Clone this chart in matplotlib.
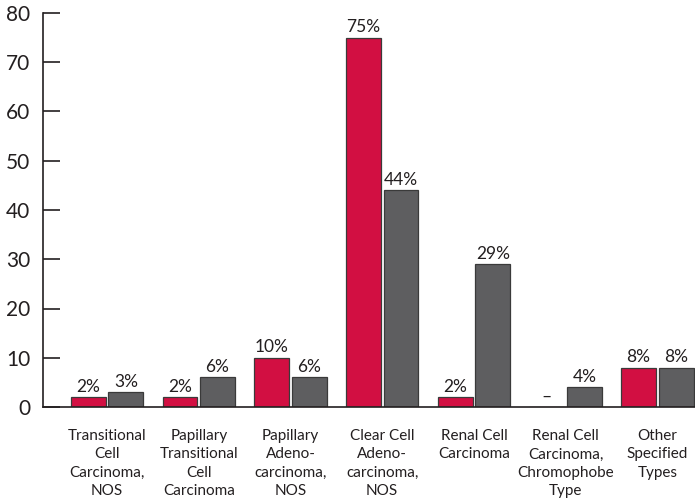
import matplotlib
matplotlib.use("Agg")
import matplotlib.pyplot as plt
import numpy as np

categories = ["Transitional\nCell\nCarcinoma,\nNOS",
              "Papillary\nTransitional\nCell\nCarcinoma",
              "Papillary\nAdeno-\ncarcinoma,\nNOS",
              "Clear Cell\nAdeno-\ncarcinoma,\nNOS",
              "Renal Cell\nCarcinoma",
              "Renal Cell\nCarcinoma,\nChromophobe\nType",
              "Other\nSpecified\nTypes"]
red_values = [2, 2, 10, 75, 2, 0, 8]
gray_values = [3, 6, 6, 44, 29, 4, 8]
red_labels = ["2%", "2%", "10%", "75%", "2%", "–", "8%"]
gray_labels = ["3%", "6%", "6%", "44%", "29%", "4%", "8%"]
yticks = [0, 10, 20, 30, 40, 50, 60, 70, 80]

plt.rcParams['font.family'] = ['Lato', 'DejaVu Sans']
txt = "#231f20"
red = "#D20F42"
gray = "#5E5E60"

fig = plt.figure(figsize=(6.95, 4.99), dpi=100)
ax = fig.add_axes([43/695, (499-407)/499, (695-43)/695, (407-13)/499])

x = np.arange(len(categories))
w = 0.38
ax.bar(x - 0.205, red_values, w, color=red, edgecolor="#3a3a3a", linewidth=0.9)
ax.bar(x + 0.205, gray_values, w, color=gray, edgecolor="#3a3a3a", linewidth=0.9)

for i in range(len(categories)):
    ax.text(x[i] - 0.205, red_values[i] + 0.5, red_labels[i], ha="center", va="bottom",
            fontsize=12.5, color=txt)
    ax.text(x[i] + 0.205, gray_values[i] + 0.5, gray_labels[i], ha="center", va="bottom",
            fontsize=12.5, color=txt)

ax.set_xlim(-0.698, 6.41)
ax.set_ylim(0, 80)
ax.set_yticks(yticks)
ax.set_yticklabels([str(v) for v in yticks], fontsize=15, color=txt)
ax.tick_params(axis="y", direction="in", length=12, width=1.2, pad=9, color=txt)
ax.set_xticks(x)
ax.set_xticklabels(categories, fontsize=11, color=txt, linespacing=1.38)
ax.tick_params(axis="x", length=0, pad=16)
for s in ["top", "right"]:
    ax.spines[s].set_visible(False)
for s in ["left", "bottom"]:
    ax.spines[s].set_linewidth(1.2)
    ax.spines[s].set_color(txt)

fig.savefig("out.png", dpi=100)
